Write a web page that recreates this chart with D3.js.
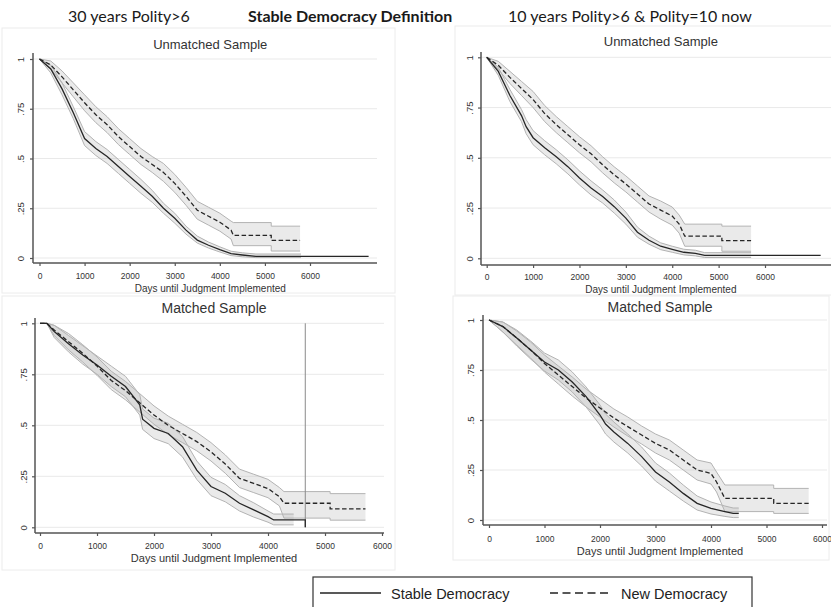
<!DOCTYPE html>
<html>
<head>
<meta charset="utf-8">
<script src="https://cdn.jsdelivr.net/npm/d3@7"></script>
<style>
  body { margin: 0; background: #fff; }
  svg { display: block; }
</style>
</head>
<body>
<div id="chart"></div>
<script>
// Kaplan-Meier estimates (days, survival, 95% CI)
const xTicks = [0, 1000, 2000, 3000, 4000, 5000, 6000];
const yTicks = [0, 0.25, 0.5, 0.75, 1];
const yTickLabels = ["0", ".25", ".5", ".75", "1"];
const headers = ["30 years Polity>6", "Stable Democracy Definition", "10 years Polity>6 & Polity=10 now"];
const panelTitles = ["Unmatched Sample", "Unmatched Sample", "Matched Sample", "Matched Sample"];
const legendLabels = ["Stable Democracy", "New Democracy"];

// 30 years, unmatched
const s1T = [0, 250, 500, 750, 1000, 1250, 1500, 1750, 2000, 2250, 2500, 2750, 3000, 3250, 3500, 3750, 4000, 4250, 4500, 4800, 5800, 7300];
const s1Est = [1, .95, .85, .73, .60, .55, .51, .46, .41, .36, .31, .25, .20, .14, .09, .064, .042, .022, .015, .008, .008, .008];
const s1Lo = [1, .93, .82, .70, .565, .515, .475, .425, .375, .325, .28, .225, .175, .12, .075, .05, .03, .012, .006, .002, .002, null];
const s1Hi = [1, .97, .88, .76, .635, .585, .545, .495, .445, .395, .34, .275, .225, .16, .11, .08, .056, .034, .026, .02, .02, null];
const n1T = [0, 250, 500, 750, 1000, 1250, 1500, 1750, 2000, 2250, 2500, 2750, 3000, 3250, 3500, 3750, 4000, 4250, 4300, 5140, 5140, 5780];
const n1Est = [1, .97, .91, .845, .78, .72, .67, .61, .56, .51, .47, .43, .375, .31, .24, .21, .18, .14, .114, .114, .089, .089];
const n1Lo = [1, .95, .88, .81, .74, .68, .63, .57, .52, .47, .43, .385, .33, .265, .195, .165, .135, .095, .062, .062, .035, .035];
const n1Hi = [1, .99, .94, .88, .82, .76, .71, .65, .60, .55, .51, .475, .42, .355, .285, .255, .225, .185, .178, .178, .16, .16];

// 10 years, unmatched
const s2T = [0, 250, 500, 750, 850, 1000, 1250, 1500, 1750, 2000, 2250, 2500, 2750, 3000, 3250, 3500, 3750, 4000, 4250, 4500, 4700, 5700, 7200];
const s2Est = [1, .93, .81, .71, .655, .60, .55, .505, .456, .40, .35, .307, .257, .20, .13, .09, .06, .045, .03, .025, .015, .015, .015];
const s2Lo = [1, .91, .78, .68, .62, .565, .515, .47, .42, .365, .315, .275, .225, .17, .105, .07, .043, .03, .017, .012, .004, .004, null];
const s2Hi = [1, .95, .84, .74, .69, .635, .585, .54, .49, .435, .385, .34, .29, .23, .155, .11, .077, .06, .045, .04, .028, .028, null];
const n2T = [0, 250, 500, 750, 1000, 1250, 1500, 1750, 2000, 2250, 2500, 2750, 3000, 3250, 3500, 3750, 4000, 4150, 4270, 5070, 5070, 5700];
const n2Est = [1, .96, .90, .845, .79, .72, .665, .615, .565, .52, .465, .415, .37, .32, .27, .24, .21, .17, .11, .11, .088, .088];
const n2Lo = [1, .94, .87, .81, .75, .68, .625, .575, .525, .48, .425, .375, .33, .28, .23, .195, .165, .125, .06, .06, .035, .035];
const n2Hi = [1, .98, .93, .88, .83, .76, .705, .655, .605, .56, .505, .455, .41, .36, .31, .285, .255, .215, .17, .17, .16, .16];

// 30 years, matched
const s3T = [0, 120, 250, 500, 750, 1000, 1250, 1500, 1750, 1800, 2000, 2250, 2500, 2750, 3000, 3250, 3500, 3750, 4000, 4100, 4450, 4654, 4654];
const s3Est = [1, 1, .96, .90, .845, .796, .74, .69, .60, .53, .485, .46, .395, .28, .20, .167, .118, .085, .052, .036, .036, .036, 0];
const s3Lo = [1, 1, .93, .86, .80, .75, .69, .64, .55, .48, .435, .41, .345, .235, .155, .125, .08, .05, .025, .012, .012, null, null];
const s3Hi = [1, 1, .99, .94, .89, .84, .79, .74, .65, .58, .535, .51, .445, .325, .245, .21, .155, .12, .08, .065, .065, null, null];
const n3T = [0, 120, 250, 500, 750, 1000, 1250, 1500, 1750, 2000, 2250, 2500, 2750, 3000, 3250, 3500, 3750, 4000, 4200, 4280, 5090, 5090, 5710];
const n3Est = [1, 1, .967, .91, .853, .79, .72, .67, .61, .55, .50, .46, .42, .37, .31, .24, .215, .19, .15, .118, .118, .09, .09];
const n3Lo = [1, 1, .94, .87, .81, .745, .675, .625, .565, .505, .455, .415, .375, .325, .265, .195, .17, .145, .105, .045, .045, .035, .035];
const n3Hi = [1, 1, .99, .95, .895, .835, .765, .715, .655, .595, .545, .505, .465, .415, .355, .285, .26, .235, .195, .175, .175, .165, .165];
const matchedRule = 4654;

// 10 years, matched
const s4T = [0, 250, 500, 750, 1000, 1250, 1500, 1750, 2000, 2100, 2250, 2500, 2750, 3000, 3250, 3500, 3750, 4000, 4250, 4400, 4500];
const s4Est = [1, .967, .91, .85, .79, .75, .69, .617, .525, .48, .44, .383, .317, .24, .19, .133, .083, .058, .042, .033, .033];
const s4Lo = [1, .94, .87, .805, .745, .70, .64, .565, .475, .43, .39, .335, .27, .195, .145, .095, .05, .03, .018, .012, .012];
const s4Hi = [1, .99, .95, .895, .835, .80, .74, .665, .575, .53, .49, .43, .365, .285, .235, .175, .12, .09, .07, .06, .06];
const n4T = [0, 250, 500, 750, 1000, 1250, 1500, 1750, 2000, 2250, 2500, 2750, 3000, 3250, 3500, 3750, 4000, 4100, 4250, 5130, 5130, 5760];
const n4Est = [1, .967, .91, .85, .783, .725, .667, .61, .56, .51, .467, .425, .383, .35, .30, .25, .233, .19, .108, .108, .083, .083];
const n4Lo = [1, .94, .875, .81, .74, .68, .62, .565, .515, .465, .42, .38, .335, .30, .25, .20, .18, .14, .042, .042, .033, .033];
const n4Hi = [1, .99, .945, .89, .825, .77, .715, .655, .605, .555, .515, .47, .43, .40, .35, .30, .285, .24, .175, .175, .158, .158];

const series = [
  [{ t: s1T, est: s1Est, lo: s1Lo, hi: s1Hi }, { t: n1T, est: n1Est, lo: n1Lo, hi: n1Hi }],
  [{ t: s2T, est: s2Est, lo: s2Lo, hi: s2Hi }, { t: n2T, est: n2Est, lo: n2Lo, hi: n2Hi }],
  [{ t: s3T, est: s3Est, lo: s3Lo, hi: s3Hi }, { t: n3T, est: n3Est, lo: n3Lo, hi: n3Hi }],
  [{ t: s4T, est: s4Est, lo: s4Lo, hi: s4Hi }, { t: n4T, est: n4Est, lo: n4Lo, hi: n4Hi }]
];

// layout of the four stata graphs
const panels = [
  { xr: [39.5, 310], yr: [258, 59], ax: 33, ay: 263, top: 53, right: 377, frame: [2, 28, 393, 265],
    titleY: 49, titleSize: 13, labY: 279, axTitleY: 292, axTitleSize: 10, yLabX: 20 },
  { xr: [486.7, 765], yr: [258.3, 57.3], ax: 481, ay: 265, top: 52, right: 831, frame: [455, 26, 380, 269],
    titleY: 46, titleSize: 13, labY: 280, axTitleY: 293, axTitleSize: 10, yLabX: 469 },
  { xr: [40, 382], yr: [527.3, 323.3], ax: 35, ay: 533, top: 318, right: 384, frame: [2, 296, 393, 274],
    titleY: 313, titleSize: 14, labY: 549, axTitleY: 562, axTitleSize: 11, yLabX: 23 },
  { xr: [489, 822], yr: [520, 320], ax: 483, ay: 525, top: 315, right: 827, frame: [453, 296, 376, 264],
    titleY: 312, titleSize: 14, labY: 542, axTitleY: 555, axTitleSize: 11, yLabX: 470 }
];

const svg = d3.select("#chart").append("svg")
  .attr("width", 831)
  .attr("height", 607)
  .style("font-family", "'Liberation Sans', Arial, sans-serif");

// header row
const headerX = [68, 248, 508];
headers.forEach((h, i) => {
  svg.append("text")
    .attr("x", headerX[i])
    .attr("y", 22)
    .attr("font-family", "Lato, 'Open Sans', sans-serif")
    .attr("font-size", 16)
    .attr("font-weight", i === 1 ? "bold" : "normal")
    .attr("fill", "#1a1a1a")
    .text(h);
});

panels.forEach((p, pi) => {
  const g = svg.append("g");
  const x = d3.scaleLinear().domain([0, 6000]).range(p.xr);
  const y = d3.scaleLinear().domain([0, 1]).range(p.yr);

  g.append("rect")
    .attr("x", p.frame[0]).attr("y", p.frame[1])
    .attr("width", p.frame[2]).attr("height", p.frame[3])
    .attr("fill", "none")
    .attr("stroke", "#ececec");

  // grid
  g.selectAll(".grid")
    .data(yTicks)
    .join("line")
    .attr("x1", p.ax).attr("x2", p.right)
    .attr("y1", d => y(d)).attr("y2", d => y(d))
    .attr("stroke", "#e9e9e9")
    .attr("stroke-width", 1);

  // confidence bands
  series[pi].forEach(s => {
    const idx = d3.range(s.t.length);
    const area = d3.area()
      .defined(i => s.lo[i] != null)
      .x(i => x(s.t[i]))
      .y0(i => y(s.lo[i]))
      .y1(i => y(s.hi[i]));
    g.append("path")
      .attr("d", area(idx))
      .attr("fill", "#b4b4b4")
      .attr("fill-opacity", 0.28);
    [s.lo, s.hi].forEach(b => {
      g.append("path")
        .attr("d", d3.line().defined(i => b[i] != null).x(i => x(s.t[i])).y(i => y(b[i]))(idx))
        .attr("fill", "none")
        .attr("stroke", "#b3b3b3")
        .attr("stroke-width", 1);
    });
  });

  if (pi === 2) {
    g.append("line")
      .attr("x1", x(matchedRule)).attr("x2", x(matchedRule))
      .attr("y1", y(1)).attr("y2", y(0))
      .attr("stroke", "#8a8a8a")
      .attr("stroke-width", 1);
  }

  // survival curves
  series[pi].forEach((s, si) => {
    const idx = d3.range(s.t.length);
    g.append("path")
      .attr("d", d3.line().x(i => x(s.t[i])).y(i => y(s.est[i]))(idx))
      .attr("fill", "none")
      .attr("stroke", "#262626")
      .attr("stroke-width", 1.3)
      .attr("stroke-dasharray", si === 1 ? "4.5,2.5" : null);
  });

  // axes
  const xAxis = g.append("g")
    .attr("transform", `translate(0,${p.ay})`)
    .call(d3.axisBottom(x).tickValues(xTicks).tickSize(3).tickFormat(d3.format("d")));
  xAxis.select(".domain").remove();
  xAxis.selectAll("line").attr("stroke", "#555").attr("stroke-width", 1.2);
  xAxis.selectAll("text")
    .attr("y", p.labY - p.ay).attr("dy", 0)
    .attr("font-size", 8.5).attr("fill", "#333")
    .attr("font-family", "'Liberation Sans', Arial, sans-serif");
  g.append("line")
    .attr("x1", p.ax).attr("x2", p.right)
    .attr("y1", p.ay).attr("y2", p.ay)
    .attr("stroke", "#555").attr("stroke-width", 1.5);

  const yAxis = g.append("g")
    .attr("transform", `translate(${p.ax},0)`)
    .call(d3.axisLeft(y).tickValues(yTicks).tickSize(3).tickFormat((d, i) => yTickLabels[i]));
  yAxis.select(".domain").remove();
  yAxis.selectAll("line").attr("stroke", "#555").attr("stroke-width", 1.2);
  yAxis.selectAll("text")
    .attr("x", 0).attr("y", -(p.ax - p.yLabX) + 3.5).attr("dy", 0)
    .attr("text-anchor", "middle")
    .attr("transform", "rotate(-90)")
    .attr("font-size", 9.5).attr("fill", "#333")
    .attr("font-family", "'Liberation Sans', Arial, sans-serif");
  g.append("line")
    .attr("x1", p.ax).attr("x2", p.ax)
    .attr("y1", p.top).attr("y2", p.ay)
    .attr("stroke", "#555").attr("stroke-width", 1.5);

  // titles
  g.append("text")
    .attr("x", (p.xr[0] + p.right) / 2 + 2)
    .attr("y", p.titleY)
    .attr("text-anchor", "middle")
    .attr("font-size", p.titleSize)
    .attr("fill", "#333")
    .text(panelTitles[pi]);
  g.append("text")
    .attr("x", (p.xr[0] + p.right) / 2 + 2)
    .attr("y", p.axTitleY)
    .attr("text-anchor", "middle")
    .attr("font-size", p.axTitleSize)
    .attr("fill", "#333")
    .text("Days until Judgment Implemented");
});

// legend
const legend = svg.append("g");
legend.append("rect")
  .attr("x", 313).attr("y", 577)
  .attr("width", 439).attr("height", 40)
  .attr("fill", "#fff")
  .attr("stroke", "#333")
  .attr("stroke-width", 1.2);
const legendX = [320, 550];
legendLabels.forEach((lab, i) => {
  legend.append("line")
    .attr("x1", legendX[i]).attr("x2", legendX[i] + 61)
    .attr("y1", 593).attr("y2", 593)
    .attr("stroke", "#222")
    .attr("stroke-width", 1.3)
    .attr("stroke-dasharray", i === 1 ? "8,4.5" : null);
  legend.append("text")
    .attr("x", legendX[i] + 71)
    .attr("y", 599)
    .attr("font-size", 14.5)
    .attr("fill", "#222")
    .text(lab);
});
</script>
</body>
</html>
